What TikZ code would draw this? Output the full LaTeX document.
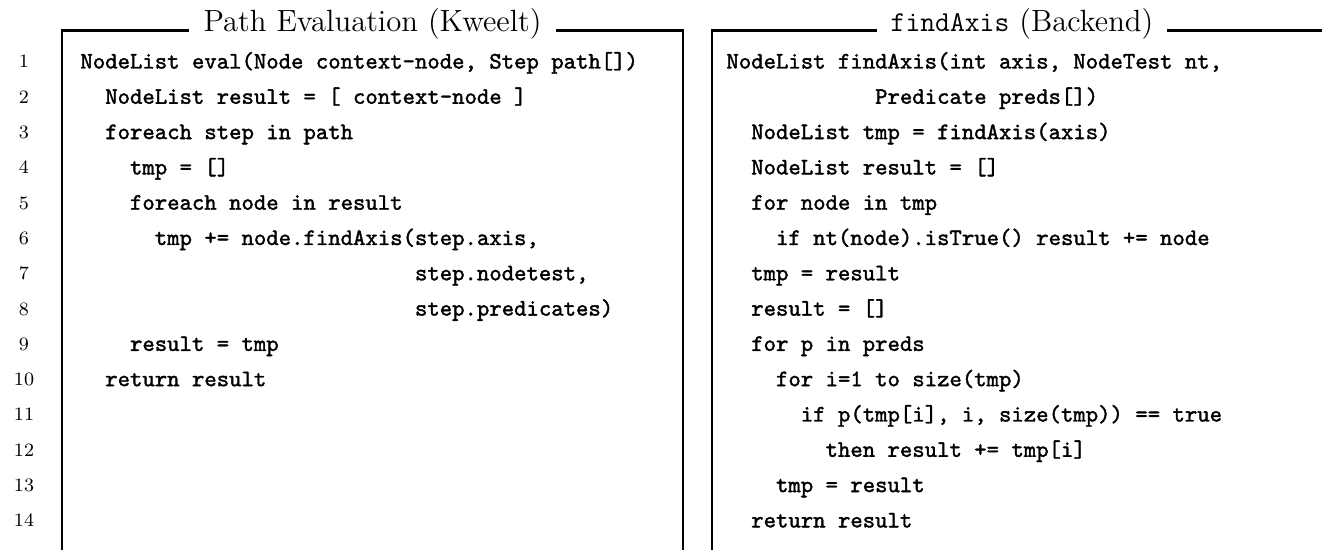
\documentclass[tikz,border=0pt]{standalone}
\usepackage{fontspec}
\newfontfamily\codefont[FakeBold=1.6]{Latin Modern Mono}
\begin{document}
\begin{tikzpicture}[x=0.42373pt, y=-0.42373pt,
  frame/.style={line width=1.25pt},
  code/.style={anchor=base west, inner sep=0pt, font=\codefont\fontsize{10}{12}\selectfont},
  lnum/.style={anchor=base, inner sep=0pt, font=\fontsize{8}{10}\selectfont},
  boxtitle/.style={anchor=base, fill=white, inner xsep=6pt, inner ysep=1pt, font=\fontsize{13}{15}\selectfont}]
\useasboundingbox (0,0) rectangle (1322,550);

% row geometry: baseline of row k
\def\rowpitch{35.3}
\def\rowtop{68.5}
\def\cw{12.39}

% frames
\coordinate (la) at (62,550);
\coordinate (lb) at (62,30.5);
\coordinate (lc) at (683,30.5);
\coordinate (ld) at (683,550);
\coordinate (ra) at (712,550);
\coordinate (rb) at (712,30.5);
\coordinate (rc) at (1322,30.5);
\draw[frame] (la) -- (lb) -- (lc) -- (ld);
\draw[frame] (ra) -- (rb) -- (rc);

% titles
\node[boxtitle] (t1) at (372.5,31.5) {Path Evaluation (Kweelt)};
\node[boxtitle] (t2) at (1022,31.5) {{\ttfamily\fontsize{12.2}{15}\selectfont findAxis} (Backend)};

% line numbers
\foreach \i in {1,...,14}
  \node[lnum] (n\i) at (24,{\rowtop-0.5+(\i-1)*\rowpitch}) {\i};

% left listing
\foreach \k/\ind/\txt in {
  1/0/{NodeList eval(Node context-node, Step path[])},
  2/2/{NodeList result = [ context-node ]},
  3/2/{foreach step in path},
  4/4/{tmp = []},
  5/4/{foreach node in result},
  6/6/{tmp += node.findAxis(step.axis,},
  7/27/{step.nodetest,},
  8/27/{step.predicates)},
  9/4/{result = tmp},
  10/2/{return result}}
  \node[code] (l\k) at ({80+\ind*\cw},{\rowtop+(\k-1)*\rowpitch}) {\txt};

% right listing
\foreach \k/\ind/\txt in {
  1/0/{NodeList findAxis(int axis, NodeTest nt,},
  2/12/{Predicate preds[])},
  3/2/{NodeList tmp = findAxis(axis)},
  4/2/{NodeList result = []},
  5/2/{for node in tmp},
  6/4/{if nt(node).isTrue() result += node},
  7/2/{tmp = result},
  8/2/{result = []},
  9/2/{for p in preds},
  10/4/{for i=1 to size(tmp)},
  11/6/{if p(tmp[i], i, size(tmp)) == true},
  12/8/{then result += tmp[i]},
  13/4/{tmp = result},
  14/2/{return result}}
  \node[code] (r\k) at ({726+\ind*\cw},{\rowtop+(\k-1)*\rowpitch}) {\txt};
\end{tikzpicture}
\end{document}
